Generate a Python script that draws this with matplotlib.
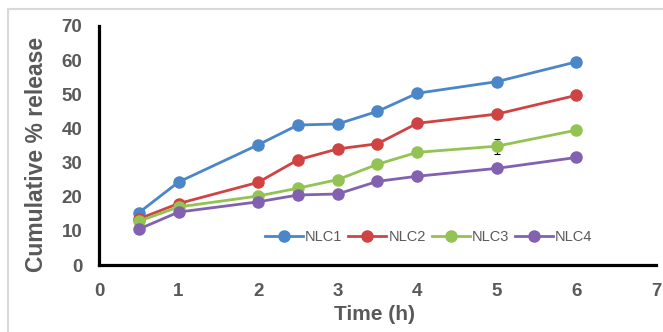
import matplotlib.pyplot as plt
from matplotlib.patches import Rectangle

plt.rcParams['font.family'] = ['Liberation Sans', 'DejaVu Sans']

time_h = [0.5, 1, 2, 2.5, 3, 3.5, 4, 5, 6]
nlc1 = [15.3, 24.3, 35.2, 41.0, 41.3, 45.0, 50.3, 53.7, 59.5]
nlc2 = [13.5, 18.0, 24.2, 30.8, 34.0, 35.5, 41.5, 44.2, 49.7]
nlc3 = [12.8, 17.0, 20.2, 22.5, 25.0, 29.5, 33.0, 34.8, 39.5]
nlc4 = [10.5, 15.5, 18.5, 20.5, 20.8, 24.5, 26.0, 28.3, 31.5]
err1 = [0.5, 0.7, 0.6, 0.8, 0.5, 1.5, 0.6, 1.3, 1.0]
err2 = [0.5, 0.6, 0.5, 0.6, 0.6, 0.7, 0.6, 0.5, 1.0]
err3 = [0.5, 0.5, 0.5, 0.5, 0.5, 0.6, 0.6, 2.2, 0.7]
err4 = [0.5, 0.5, 0.6, 0.5, 1.0, 0.6, 0.5, 0.5, 1.0]
labels = ['NLC1', 'NLC2', 'NLC3', 'NLC4']
colors = ['#4a86c8', '#d04343', '#93c353', '#8261b0']

fig = plt.figure(figsize=(6.63, 3.32), dpi=100)
ax = fig.add_axes([0.1493, 0.2018, 0.8401, 0.7199])

# light gray frame around the chart area
fig.patches.append(Rectangle((8 / 663, -0.1), 1.2, 1.1 - 9 / 332,
                             transform=fig.transFigure, fill=False,
                             edgecolor='#d9d9d9', linewidth=1.5))

for y, e, lab, c in zip([nlc1, nlc2, nlc3, nlc4], [err1, err2, err3, err4], labels, colors):
    ax.errorbar(time_h, y, yerr=e, color=c, ecolor='black', elinewidth=0.8,
                capsize=2.5, capthick=0.8, marker='o', markersize=8,
                linewidth=2.0, label=lab, zorder=3)

ax.set_xlim(0, 7)
ax.set_ylim(0, 70)
ax.set_xticks(range(0, 8))
ax.set_yticks(range(0, 71, 10))
for s in ['top', 'right']:
    ax.spines[s].set_visible(False)
for s in ['left', 'bottom']:
    ax.spines[s].set_linewidth(2.3)
    ax.spines[s].set_color('black')
ax.tick_params(length=0, labelsize=13.5, labelcolor='#595959')
ax.tick_params(axis='y', pad=12)
ax.tick_params(axis='x', pad=13)
for t in ax.get_xticklabels() + ax.get_yticklabels():
    t.set_fontweight('bold')

ax.set_xlabel('Time (h)', fontsize=15, fontweight='bold', color='#595959')
ax.set_ylabel('Cumulative % release', fontsize=16.5, fontweight='bold', color='#595959')
ax.xaxis.set_label_coords(0.4955, -0.168)
ax.yaxis.set_label_coords(-0.0916, 0.464)

handles, labs = ax.get_legend_handles_labels()
handles = [h[0] for h in handles]
leg = ax.legend(handles, labs, loc='center', bbox_to_anchor=(0.592, 0.117), ncol=4,
                frameon=False, fontsize=10.5, handlelength=2.6, handletextpad=0.15,
                columnspacing=0.4, labelcolor='#595959')

fig.savefig('out.png', dpi=100)
